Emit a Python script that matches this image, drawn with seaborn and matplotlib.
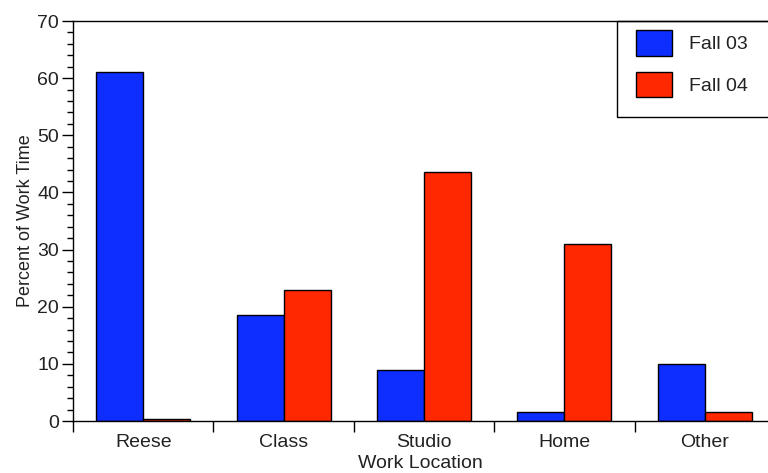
import seaborn as sns
import matplotlib.pyplot as plt
import pandas as pd
from matplotlib.patches import Rectangle
from matplotlib.ticker import MultipleLocator, FixedLocator

# values
locations = ['Reese', 'Class', 'Studio', 'Home', 'Other']
fall_03 = [61.0, 18.5, 9.0, 1.6, 10.0]
fall_04 = [0.3, 23.0, 43.6, 31.0, 1.6]
terms = ['Fall 03', 'Fall 04']
term_colors = ['#0d2eff', '#ff2800']

df = pd.DataFrame({
  'Work Location': locations * 2,
  'Percent': fall_03 + fall_04,
  'Term': [terms[0]] * len(locations) + [terms[1]] * len(locations),
})

sns.set_style('white')
plt.rcParams['font.family'] = ['Liberation Sans', 'DejaVu Sans']
text_color = '#222222'

fig = plt.figure(figsize = (7.68, 4.73), dpi = 100)
ax = fig.add_axes([73 / 768, 1 - 421 / 473, 1 - 73 / 768, 400 / 473])

sns.barplot(
  data = df,
  x = 'Work Location',
  y = 'Percent',
  hue = 'Term',
  palette = term_colors,
  saturation = 1,
  width = 0.67,
  gap = 0,
  edgecolor = 'black',
  linewidth = 1,
  ax = ax
)

# axes limits and ticks
ax.set_xlim(-0.5, 4.45)
ax.set_ylim(0, 70)
ax.yaxis.set_major_locator(MultipleLocator(10))
ax.yaxis.set_minor_locator(MultipleLocator(2))
ax.xaxis.set_minor_locator(FixedLocator([-0.5, 0.5, 1.5, 2.5, 3.5]))
ax.tick_params(axis = 'y', which = 'major', direction = 'out', length = 8, width = 1, color = 'black',
               left = True, labelsize = 14, labelcolor = text_color, pad = 2)
ax.tick_params(axis = 'y', which = 'minor', direction = 'out', length = 4, width = 1, color = 'black', left = True)
ax.tick_params(axis = 'x', which = 'major', length = 0, labelsize = 14, labelcolor = text_color, pad = 9)
ax.tick_params(axis = 'x', which = 'minor', direction = 'out', length = 8, width = 1, color = 'black', bottom = True)

for side in ['left', 'bottom', 'top']:
  ax.spines[side].set_color('black')
  ax.spines[side].set_linewidth(1)
ax.spines['right'].set_visible(False)

ax.set_xlabel('Work Location', fontsize = 14, color = text_color, labelpad = 3)
ax.set_ylabel('Percent of Work Time', fontsize = 13, color = text_color, labelpad = 2)

# legend: frame drawn as a box hanging off the top right corner
handles, labels = ax.get_legend_handles_labels()
ax.legend(
  handles, labels,
  loc = 'upper left',
  bbox_to_anchor = (636 / 768, 1 - 30 / 473),
  bbox_transform = fig.transFigure,
  frameon = False,
  fontsize = 14,
  labelcolor = text_color,
  handlelength = 1.85,
  handleheight = 1.65,
  labelspacing = 0.82,
  handletextpad = 0.9,
  borderpad = 0,
  borderaxespad = 0,
)
fig.patches.append(Rectangle((617 / 768, 1 - 117 / 473), 0.3, 96 / 473, transform = fig.transFigure,
                             facecolor = 'none', edgecolor = 'black', linewidth = 1, zorder = 5))

plt.savefig('out.png', dpi = 100)
